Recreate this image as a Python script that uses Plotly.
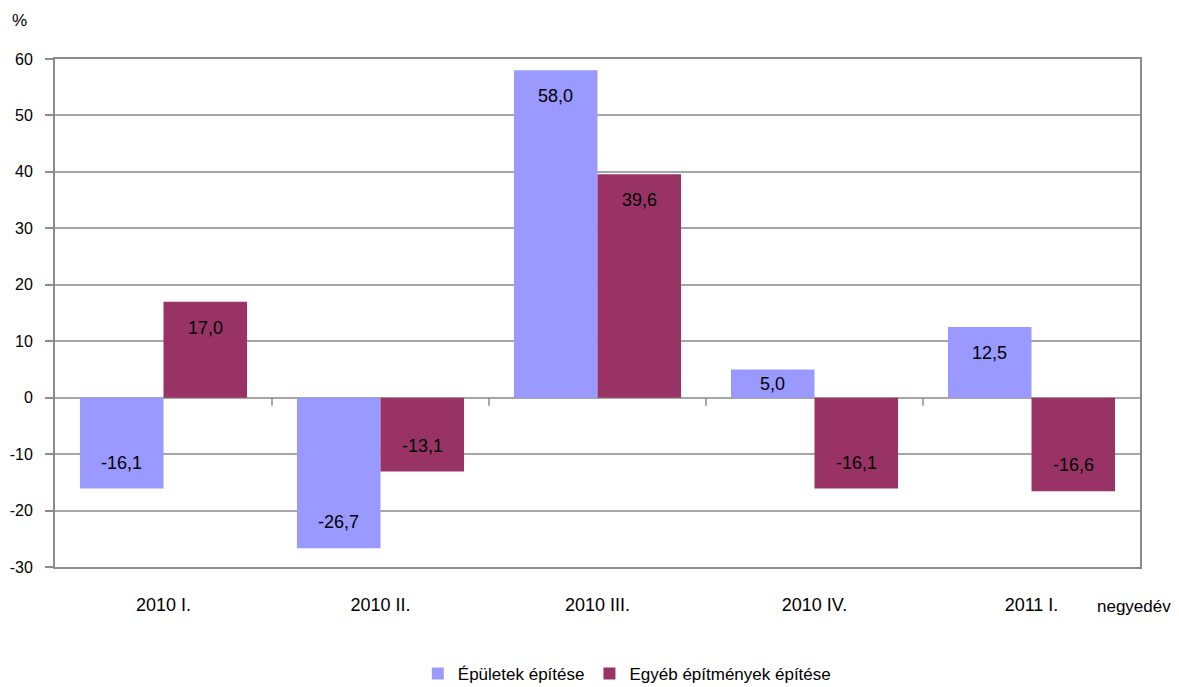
import plotly.graph_objects as go

categories = ["2010 I.", "2010 II.", "2010 III.", "2010 IV.", "2011 I."]
series_names = ["Épületek építése", "Egyéb építmények építése"]
epuletek = [-16.1, -26.7, 58.0, 5.0, 12.5]
egyeb = [17.0, -13.1, 39.6, -16.1, -16.6]
colors = ["#9999FF", "#993366"]
y_ticks = [-30, -20, -10, 0, 10, 20, 30, 40, 50, 60]

FONT = "Liberation Sans, Arial, sans-serif"
GRID = "#a6a6a6"
BORDER = "#8c8c8c"
FS = 18

fig = go.Figure()
for name, vals, col in zip(series_names, [epuletek, egyeb], colors):
    fig.add_trace(go.Bar(x=categories, y=vals, name=name, marker=dict(color=col, line=dict(width=0))))

# data labels placed inside bars near their ends
px_per_unit = 508 / 90
bar_half = 42
for k, vals in enumerate([epuletek, egyeb]):
    xs = -bar_half if k == 0 else bar_half
    for c, v in zip(categories, vals):
        shift = min(abs(v) * px_per_unit / 2, 26)
        fig.add_annotation(x=c, y=v, xref="x", yref="y", text=f"{v:.1f}".replace(".", ","),
                           showarrow=False, xshift=xs, yshift=-shift if v > 0 else shift,
                           font=dict(size=FS, color="#000000", family=FONT))

# category separator ticks on the zero line
for i in range(len(categories) - 1):
    fig.add_shape(type="line", xref="x", yref="y", x0=i + 0.5, x1=i + 0.5,
                  ysizemode="pixel", yanchor=0, y0=0, y1=-8,
                  line=dict(color=BORDER, width=1.5))

fig.add_annotation(text="%", xref="paper", yref="paper", x=-0.033, y=1.075,
                   xanchor="center", yanchor="middle", showarrow=False,
                   font=dict(size=17, color="#000000", family=FONT))
fig.add_annotation(text="negyedév", xref="paper", yref="paper", x=1.03, y=-0.0787,
                   xanchor="right", yanchor="middle", showarrow=False,
                   font=dict(size=17, color="#000000", family=FONT))

fig.update_layout(
    width=1171, height=679,
    margin=dict(l=47, r=39, t=51, b=120, autoexpand=False),
    paper_bgcolor="white", plot_bgcolor="white",
    barmode="group", bargap=0.23, bargroupgap=0,
    font=dict(family=FONT, size=FS, color="#000000"),
    showlegend=True,
    legend=dict(orientation="h", x=0.527, y=-0.2106, xanchor="center", yanchor="middle",
                font=dict(size=17, family=FONT), traceorder="normal", itemwidth=30),
    xaxis=dict(showline=True, linecolor=BORDER, linewidth=2, mirror=True, ticks="",
               showgrid=False, ticklabelstandoff=20, tickfont=dict(size=FS), automargin=False),
    yaxis=dict(range=[-30, 60], tickvals=y_ticks, ticktext=[str(t) for t in y_ticks],
               showline=True, linecolor=BORDER, linewidth=2,
               mirror=True, ticks="outside", ticklen=8, tickcolor=BORDER, tickwidth=1.5,
               showgrid=True, gridcolor=GRID, gridwidth=2, zeroline=True,
               zerolinecolor=GRID, zerolinewidth=2, ticklabelstandoff=9,
               tickfont=dict(size=16), automargin=False),
)

fig.write_html("out.html")
